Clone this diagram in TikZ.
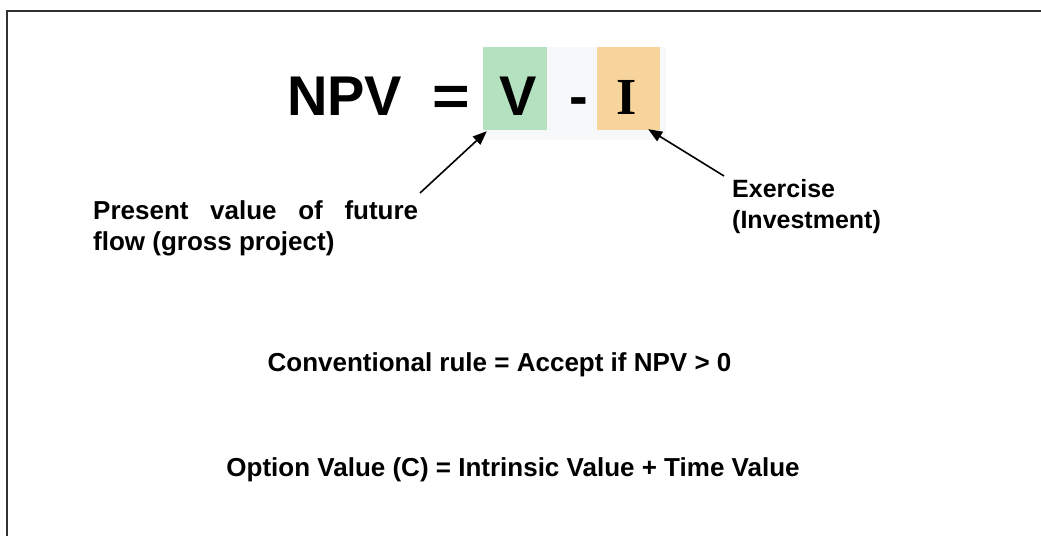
\documentclass[tikz,border=0pt]{standalone}
\usepackage{fontspec}
\setmainfont{Liberation Sans}
\newfontfamily\serifI{Liberation Serif}
\usetikzlibrary{arrows.meta}
\definecolor{greenbox}{RGB}{180,226,192}
\definecolor{orangebox}{RGB}{246,212,156}
\definecolor{faintbg}{RGB}{246,248,250}
\definecolor{framegray}{RGB}{50,50,50}
\tikzset{
  bigtxt/.style={font=\fontsize{56}{60}\selectfont\bfseries, inner sep=0pt},
  smalltxt/.style={font=\fontsize{26}{30}\selectfont\bfseries, inner sep=0pt},
  box/.style={minimum width=64pt, minimum height=83pt, inner sep=0pt, draw=none},
  ptr/.style={line width=1.6pt, -{Triangle[length=14pt,width=11pt]}},
}
\begin{document}
\begin{tikzpicture}[x=1pt,y=-1pt]
\useasboundingbox (0,0) rectangle (1041,552);
% frame
\draw[line width=2.2pt, framegray] (1041,11) -- (7,11) -- (7,536);
% faint background
\fill[faintbg] (483,47) rectangle (666,140);
% boxes
\node[box, fill=greenbox] (vb) at (515,88.5) {};
\node[box, fill=orangebox, minimum width=63pt] (ob) at (628.5,88.5) {};
% equation
\node[bigtxt, anchor=base west] (npv) at (287,115) {NPV};
\node[bigtxt, anchor=base, xscale=1.15] (eq) at (451,115) {=};
\node[bigtxt, anchor=base] (vt) at (518,115) {V};
\node[bigtxt, anchor=base] (mi) at (579,115) {-};
\node[font=\fontsize{52}{56}\selectfont\bfseries\serifI, inner sep=0pt, anchor=base] (it) at (627,114) {I};
% labels
\node[smalltxt, anchor=base west] (pv1) at (93,219) {\makebox[325pt][s]{Present value of future}};
\node[smalltxt, anchor=base west] (pv2) at (93,250) {flow (gross project)};
\node[font=\fontsize{25}{30}\selectfont\bfseries, inner sep=0pt, anchor=base west] (ex1) at (732,197) {Exercise};
\node[font=\fontsize{25}{30}\selectfont\bfseries, inner sep=0pt, anchor=base west] (ex2) at (732,228) {(Investment)};
% arrows
\coordinate (a1s) at (420,193);
\coordinate (a2s) at (724,176);
\draw[ptr] (a1s) -- ([shift={(4,1)}]vb.south west);
\draw[ptr] (a2s) -- ([shift={(-12,-1)}]ob.south east);
% rules
\node[smalltxt, anchor=base] (conv) at (499.5,371) {Conventional rule = Accept if NPV > 0};
\node[smalltxt, anchor=base] (opt) at (513,476) {Option Value (C) = Intrinsic Value + Time Value};
\end{tikzpicture}
\end{document}
